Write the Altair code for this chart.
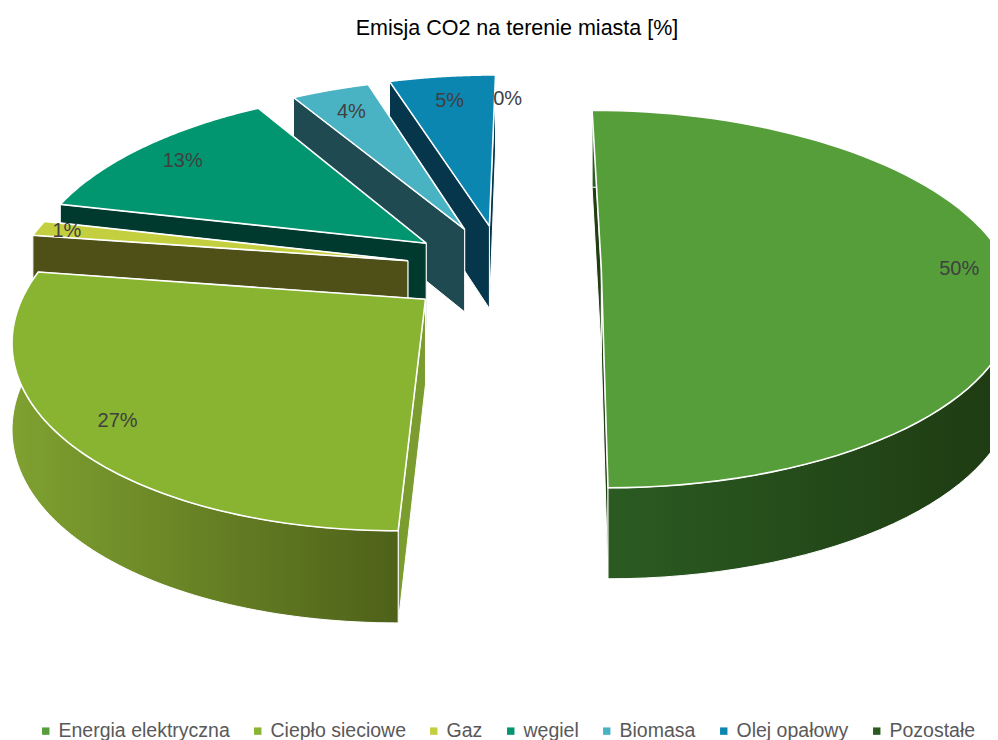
import math
import altair as alt
import pandas as pd

categories = ["Energia elektryczna", "Ciepło sieciowe", "Gaz", "węgiel", "Biomasa", "Olej opałowy", "Pozostałe"]
values = [50.0, 27.3, 1.3, 12.7, 3.7, 5.0, 0.0]
radius = [1.0, 1.0, 1.0, 1.02, 1.02, 1.025, 1.025]
label_radius = [0.88, 0.87, 0.92, 0.865, 0.84, 0.84, 0.84]
top_colors = ["#559e3a", "#88b431", "#c3cf3f", "#029670", "#4ab3c3", "#0a86b0", "#2b5a20"]
side_colors = ["#223f14", "#7b9c2e", "#4f5018", "#003a2e", "#1f4a52", "#05364b", "#1a3510"]
outer_stops = [("#2b5c22", "#1e3a12"), ("#7fa130", "#4e6119"), ("#4f5018", "#4f5018"),
               ("#003a2e", "#003a2e"), ("#1f4a52", "#1f4a52"), ("#05364b", "#05364b"), ("#1a3510", "#1a3510")]
title_text = "Emisja CO2 na terenie miasta [%]"

# projection of the tilted pie onto the page
CX, CY, RX, RY, PERSP, PERSP_U, SKEW_FRONT, SKEW_BACK, EXPLODE = 503, 269, 400, 184, 0.159, -0.012, 10, 5, 0.245


def project(u, v, depth=0.0):
    s = 1 / (1 + PERSP * v)
    sx = 1 / (1 + PERSP * v + PERSP_U * u)
    skew = SKEW_BACK if v > 0 else SKEW_FRONT
    x = CX + (RX * u + skew * v) * sx
    y = CY - RY * v * s
    if depth:
        y += 84 - 7 * v
    return x, y


def frame(points):
    return pd.DataFrame([{"x": p[0], "y": p[1], "i": n} for n, p in enumerate(points)])


X = alt.X("x:Q", scale=alt.Scale(domain=[8, 990]), axis=None)
Y = alt.Y("y:Q", scale=alt.Scale(domain=[8, 740], reverse=True), axis=None)
ORDER = alt.Order("i:Q")

total = sum(values)
cum = 0.0
slices = []
for name, val, r, lr in zip(categories, values, radius, label_radius):
    a0 = 2 * math.pi * cum / total
    a1 = 2 * math.pi * (cum + val) / total
    cum += val
    slices.append((name, val, a0, a1, r, lr))

back_to_front = [6, 5, 4, 3, 2, 1, 0]
color_scale = alt.Scale(domain=categories, range=top_colors)
layers = []
label_rows = []
for idx in back_to_front:
    name, val, a0, a1, r, lr = slices[idx]
    mid = (a0 + a1) / 2
    ou, ov = EXPLODE * math.sin(mid), EXPLODE * math.cos(mid)
    n = 80
    arc = [(ou + r * math.sin(a0 + (a1 - a0) * k / n), ov + r * math.cos(a0 + (a1 - a0) * k / n)) for k in range(n + 1)]
    apex = (ou, ov)
    if val > 0:
        side_layers = []
        for edge in (arc[-1], arc[0]):
            wall = [project(*apex), project(*edge), project(*edge, 1), project(*apex, 1), project(*apex)]
            side_layers.append(alt.Chart(frame(wall)).mark_line(
                filled=True, fill=side_colors[idx], stroke="white", strokeWidth=1).encode(x=X, y=Y, order=ORDER))
        lo, hi = outer_stops[idx]
        outer = [project(*p) for p in arc] + [project(*p, 1) for p in reversed(arc)]
        outer.append(outer[0])
        outer_layer = alt.Chart(frame(outer)).mark_line(
            filled=True, stroke="white", strokeWidth=1,
            fill=alt.Gradient(gradient="linear", x1=0, x2=1, y1=0, y2=0,
                              stops=[alt.GradientStop(offset=0, color=lo), alt.GradientStop(offset=1, color=hi)])
        ).encode(x=X, y=Y, order=ORDER)
        # the curved wall faces away for the slices at the back of the pie
        if math.cos(mid) > 0.01:
            layers.append(outer_layer)
            layers.extend(side_layers)
        else:
            layers.extend(side_layers)
            layers.append(outer_layer)
    top = [project(*apex)] + [project(*p) for p in arc] + [project(*apex)]
    d = frame(top)
    d["name"] = name
    layers.append(alt.Chart(d).mark_line(filled=True, stroke="white", strokeWidth=1.6 if val > 0 else 0).encode(
        x=X, y=Y, order=ORDER,
        color=alt.Color("name:N", scale=color_scale, sort=categories,
                        legend=alt.Legend(title=None, orient="none", legendX=28, legendY=713,
                                          direction="horizontal", columns=7, columnPadding=18,
                                          symbolType="square", symbolSize=55, symbolStrokeWidth=0,
                                          labelFont="Liberation Sans", labelFontSize=19.5, labelColor="#595959",
                                          labelOffset=3, labelLimit=300))))
    lx, ly = project(ou + lr * math.sin(mid), ov + lr * math.cos(mid))
    label_rows.append({"x": lx, "y": ly, "t": f"{round(val)}%"})

labels = alt.Chart(pd.DataFrame(label_rows)).mark_text(
    font="Liberation Sans", fontSize=20, color="#404040", align="center", baseline="middle"
).encode(x=X, y=Y, text="t:N")

chart = alt.layer(*layers, labels).properties(
    width=982, height=732, padding=0, background="white", autosize=alt.AutoSizeParams(type="none"),
    title=alt.TitleParams(title_text, font="Liberation Sans", fontSize=21.5, fontWeight="normal",
                          color="#000000", anchor="middle", dx=18, dy=35)
).configure_view(strokeWidth=0, stroke=None)

chart.save("out.html", embed_options={"renderer": "svg", "actions": False})
